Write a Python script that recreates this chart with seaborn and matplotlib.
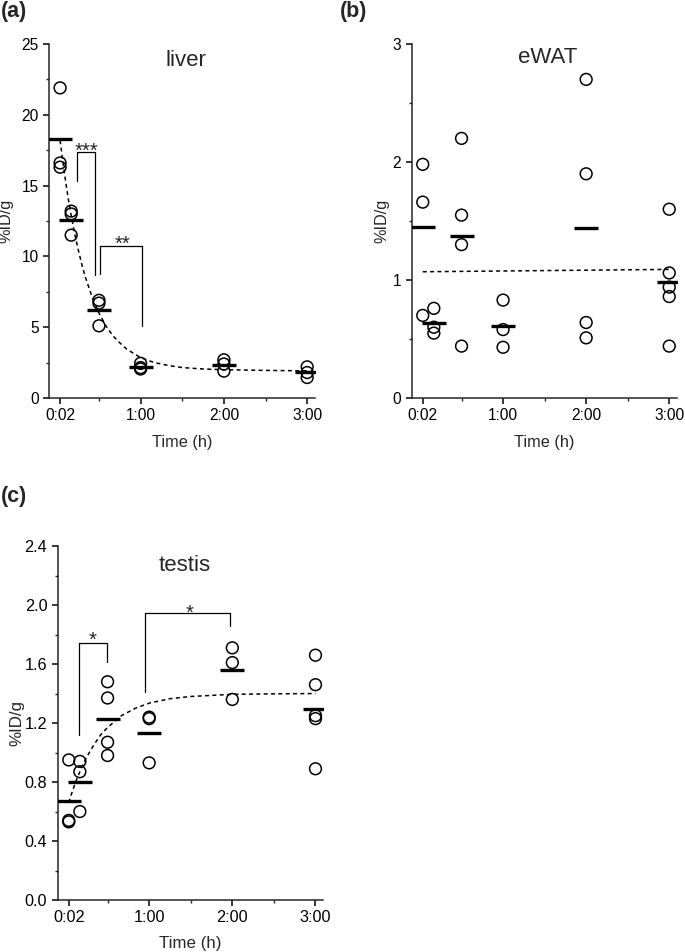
import numpy as np
import pandas as pd
import matplotlib
matplotlib.use("Agg")
import matplotlib.pyplot as plt
import seaborn as sns
from matplotlib.ticker import MultipleLocator, FixedLocator

# sampling times in minutes, values in %ID/g
liver_t = [2, 2, 2, 10, 10, 10, 30, 30, 30, 60, 60, 60, 120, 120, 120, 180, 180, 180]
liver_v = [21.9, 16.6, 16.3, 13.2, 13.0, 11.5, 6.9, 6.7, 5.1,
           2.45, 2.15, 2.05, 2.7, 2.4, 1.9, 2.2, 1.8, 1.45]

ewat_t = [2, 2, 2, 10, 10, 10, 30, 30, 30, 30, 60, 60, 60,
          120, 120, 120, 120, 180, 180, 180, 180, 180]
ewat_v = [1.98, 1.66, 0.70, 0.76, 0.60, 0.55, 2.20, 1.55, 1.30, 0.44, 0.83, 0.58, 0.43,
          2.70, 1.90, 0.64, 0.51, 1.60, 1.06, 0.94, 0.86, 0.44]

testis_t = [2, 2, 2, 10, 10, 10, 30, 30, 30, 30, 60, 60, 60,
            120, 120, 120, 180, 180, 180, 180, 180]
testis_v = [0.95, 0.54, 0.53, 0.94, 0.87, 0.60, 1.48, 1.37, 1.07, 0.98, 1.24, 1.23, 0.93,
            1.71, 1.61, 1.36, 1.66, 1.46, 1.25, 1.23, 0.89]

# dashed fit curves
liver_fit_t = [2, 4, 6, 8, 10, 12.5, 15, 17.5, 20, 25, 30, 35, 40, 45, 50, 60,
               70, 80, 90, 105, 120, 150, 180]
liver_fit_v = [18.2, 16.7, 15.3, 14.0, 12.9, 11.6, 10.5, 9.5, 8.6, 7.15, 6.0, 5.1,
               4.4, 3.9, 3.45, 2.85, 2.5, 2.3, 2.15, 2.05, 2.0, 1.95, 1.92]
ewat_fit_t = [2, 180]
ewat_fit_v = [1.07, 1.09]
testis_fit_t = [2, 4, 6, 8, 10, 12.5, 15, 20, 25, 30, 40, 50, 60, 75, 90, 120, 150, 180]
testis_fit_v = [0.66, 0.72, 0.775, 0.825, 0.87, 0.925, 0.97, 1.05, 1.12, 1.17,
                1.25, 1.30, 1.335, 1.365, 1.38, 1.395, 1.398, 1.40]

time_ticks = [2, 60, 120, 180]
time_labels = ["0:02", "1:00", "2:00", "3:00"]

# significance brackets: x left, x right, y left end, y top, y right end, text, text x, text y
liver_brackets = [(14.5, 27.2, 15.3, 17.35, 8.7, "***", 20.8, 17.0),
                  (30.8, 61.3, 8.75, 10.75, 5.1, "**", 46.7, 10.5)]
testis_brackets = [(9.2, 29.6, 1.12, 1.745, 1.616, "*", 19.5, 1.725),
                   (56.8, 118.2, 1.41, 1.948, 1.858, "*", 89.3, 1.91)]

sns.set_theme(style="ticks")
plt.rcParams["font.family"] = ["Liberation Sans", "DejaVu Sans"]
plt.rcParams["axes.linewidth"] = 1.1

fig = plt.figure(figsize=(6.85, 9.52), dpi=100)


def draw_panel(rect, t, v, fit_t, fit_v, title, title_xy, ymax, ymajor, yminor,
               brackets, fs, ylab_x, xlab_y):
    ax = fig.add_axes(rect)
    df = pd.DataFrame({"time": t, "value": v})
    means = df.groupby("time", as_index=False)["value"].mean()

    sns.lineplot(x=fit_t, y=fit_v, ax=ax, color="black", lw=1.1,
                 linestyle=(0, (2.6, 2.2)), zorder=2)
    sns.scatterplot(data=df, x="time", y="value", ax=ax, s=72, facecolor="none",
                    edgecolor="black", linewidth=1.1, zorder=3, legend=False)
    sns.scatterplot(data=means, x="time", y="value", ax=ax, marker="_", s=17.5 ** 2,
                    color="black", linewidth=2.4, zorder=4, legend=False)

    for xl, xr, yl, yt, yr, txt, tx, ty in brackets:
        ax.plot([xl, xl, xr, xr], [yl, yt, yt, yr], color="black", lw=0.9, zorder=2)
        ax.text(tx, ty, txt, ha="center", va="baseline", fontsize=14.5)

    ax.set_xlim(-6, 185.6)
    ax.set_ylim(0, ymax)
    ax.set_xticks(time_ticks)
    ax.set_xticklabels(time_labels)
    ax.xaxis.set_minor_locator(FixedLocator([30, 90, 150]))
    ax.yaxis.set_major_locator(MultipleLocator(ymajor))
    ax.yaxis.set_minor_locator(MultipleLocator(yminor))
    ax.tick_params(which="major", direction="out", length=4, width=1.1,
                   labelsize=fs, pad=3.5, colors="black")
    ax.tick_params(which="minor", direction="out", length=2, width=1.0)
    sns.despine(ax=ax)

    ax.set_xlabel("Time (h)", fontsize=fs + 0.5)
    ax.set_ylabel("%ID/g", fontsize=fs + 0.5)
    ax.xaxis.set_label_coords(0.5, xlab_y)
    ax.yaxis.set_label_coords(ylab_x, 0.5)
    ax.text(title_xy[0], title_xy[1], title, transform=ax.transAxes,
            ha="center", va="baseline", fontsize=16)
    return ax


draw_panel([0.0715, 0.5819, 0.3883, 0.3719], liver_t, liver_v, liver_fit_t, liver_fit_v,
           "liver", (0.514, 0.939), 25, 5, 2.5, liver_brackets, 11.2, -0.132, -0.1045)
draw_panel([0.601, 0.5819, 0.3873, 0.3719], ewat_t, ewat_v, ewat_fit_t, ewat_fit_v,
           "eWAT", (0.512, 0.946), 3, 1, 0.5, [], 11.2, -0.084, -0.1045)
draw_panel([0.0842, 0.0546, 0.3877, 0.3718], testis_t, testis_v, testis_fit_t, testis_fit_v,
           "testis", (0.479, 0.930), 2.4, 0.4, 0.2, testis_brackets, 11.7, -0.125, -0.1017)

fig.text(0.001, 0.999, "(a)", ha="left", va="top", fontsize=15.5, fontweight="bold")
fig.text(0.4964, 0.999, "(b)", ha="left", va="top", fontsize=15.5, fontweight="bold")
fig.text(0.001, 1 - 486 / 952, "(c)", ha="left", va="top", fontsize=15.5, fontweight="bold")

fig.savefig("out.png", dpi=100)
